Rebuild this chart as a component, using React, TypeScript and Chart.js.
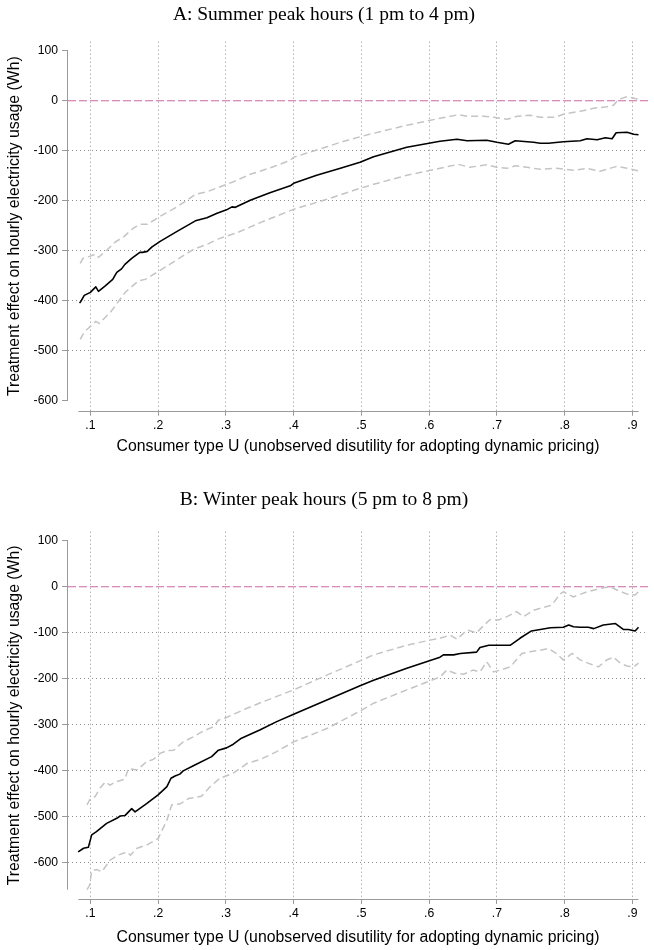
import React, { useEffect, useRef } from 'react';
import { Chart, registerables } from 'chart.js';

Chart.register(...registerables);

// ---------- text ----------
const TITLE_A = 'A: Summer peak hours (1 pm to 4 pm)';
const TITLE_B = 'B: Winter peak hours (5 pm to 8 pm)';
const X_TITLE = 'Consumer type U (unobserved disutility for adopting dynamic pricing)';
const Y_TITLE = 'Treatment effect on hourly electricity usage (Wh)';

// ---------- ticks / axis ranges ----------
const X_TICKS = [0.1, 0.2, 0.3, 0.4, 0.5, 0.6, 0.7, 0.8, 0.9];
const Y_TICKS = [100, 0, -100, -200, -300, -400, -500, -600];
const X_AXIS_RANGE = [0.0823, 0.9089];
const X_VIEW = [0.067, 0.923];
const Y_AXIS_A = [-600, 100];
const Y_VIEW_A = [-619.4, 118];
const Y_AXIS_B = [-658, 100];
const Y_VIEW_B = [-678.2, 119.5];
const REF_VALUE = 0;

// ---------- Panel A: summer ----------
const A_EST: [number, number][] = [
  [0.084, -404], [0.086, -401], [0.091, -389], [0.100, -383], [0.108, -372], [0.112, -381],
  [0.122, -370], [0.133, -357], [0.139, -343], [0.146, -336], [0.151, -327], [0.161, -315],
  [0.173, -303], [0.177, -303], [0.184, -301], [0.191, -292], [0.203, -281], [0.228, -261],
  [0.255, -240], [0.272, -234], [0.287, -225], [0.301, -218], [0.309, -212], [0.314, -213],
  [0.336, -199], [0.365, -184], [0.395, -170], [0.400, -165], [0.434, -149], [0.469, -135],
  [0.498, -123], [0.518, -112], [0.567, -93], [0.616, -81], [0.641, -77], [0.656, -80],
  [0.685, -79], [0.700, -83], [0.717, -87], [0.727, -80], [0.754, -83], [0.764, -85],
  [0.776, -85], [0.798, -82], [0.823, -80], [0.833, -76], [0.848, -78], [0.860, -74],
  [0.870, -76], [0.876, -64], [0.892, -63], [0.902, -67], [0.909, -68],
];
const A_UPPER: [number, number][] = [
  [0.085, -325], [0.089, -315], [0.099, -311], [0.107, -307], [0.112, -313], [0.124, -299],
  [0.137, -282], [0.149, -272], [0.164, -254], [0.174, -247], [0.184, -247], [0.203, -231],
  [0.228, -212], [0.255, -187], [0.272, -182], [0.311, -162], [0.336, -147], [0.370, -132],
  [0.395, -119], [0.400, -113], [0.449, -92], [0.469, -83], [0.498, -72], [0.518, -65],
  [0.567, -49], [0.616, -35], [0.643, -28], [0.656, -31], [0.680, -31], [0.695, -33],
  [0.715, -37], [0.730, -31], [0.749, -29], [0.764, -33], [0.786, -33], [0.798, -27],
  [0.823, -21], [0.843, -15], [0.862, -12], [0.872, -9], [0.880, 3], [0.892, 8], [0.909, 3],
];
const A_LOWER: [number, number][] = [
  [0.085, -477], [0.091, -462], [0.101, -450], [0.108, -441], [0.113, -445], [0.130, -422],
  [0.141, -402], [0.152, -382], [0.171, -360], [0.181, -357], [0.203, -339], [0.252, -297],
  [0.272, -287], [0.291, -275], [0.316, -264], [0.350, -244], [0.400, -217], [0.449, -197],
  [0.469, -188], [0.498, -175], [0.518, -167], [0.567, -149], [0.616, -135], [0.643, -127],
  [0.660, -133], [0.685, -128], [0.700, -133], [0.715, -135], [0.727, -130], [0.744, -133],
  [0.764, -137], [0.788, -135], [0.813, -139], [0.833, -135], [0.852, -141], [0.877, -131],
  [0.892, -135], [0.909, -140],
];

// ---------- Panel B: winter ----------
const B_EST: [number, number][] = [
  [0.082, -576], [0.090, -568], [0.097, -566], [0.102, -539], [0.109, -532], [0.124, -514],
  [0.139, -503], [0.144, -498], [0.151, -497], [0.161, -482], [0.166, -489], [0.183, -471],
  [0.200, -452], [0.213, -434], [0.219, -416], [0.225, -411], [0.232, -407], [0.237, -400],
  [0.252, -389], [0.279, -369], [0.289, -355], [0.301, -350], [0.311, -342], [0.323, -329],
  [0.341, -317], [0.350, -311], [0.375, -293], [0.400, -277], [0.449, -246], [0.498, -215],
  [0.518, -203], [0.567, -177], [0.616, -153], [0.621, -148], [0.636, -148], [0.646, -145],
  [0.670, -142], [0.675, -132], [0.688, -127], [0.698, -127], [0.720, -127], [0.734, -112],
  [0.751, -96], [0.779, -89], [0.798, -88], [0.806, -83], [0.813, -87], [0.823, -88],
  [0.835, -88], [0.843, -91], [0.857, -83], [0.875, -80], [0.887, -93], [0.894, -93],
  [0.904, -96], [0.909, -88],
];
const B_UPPER: [number, number][] = [
  [0.095, -474], [0.100, -460], [0.107, -456], [0.114, -438], [0.122, -424], [0.129, -431],
  [0.137, -424], [0.151, -418], [0.156, -395], [0.169, -398], [0.183, -380], [0.193, -375],
  [0.203, -362], [0.213, -356], [0.223, -355], [0.237, -337], [0.252, -326], [0.267, -313],
  [0.282, -304], [0.289, -290], [0.301, -284], [0.316, -274], [0.331, -264], [0.351, -252],
  [0.400, -224], [0.449, -192], [0.498, -161], [0.518, -148], [0.567, -127], [0.601, -116],
  [0.616, -112], [0.631, -105], [0.641, -114], [0.656, -94], [0.670, -100], [0.680, -85],
  [0.690, -71], [0.702, -72], [0.715, -65], [0.729, -54], [0.739, -65], [0.754, -51],
  [0.769, -45], [0.781, -40], [0.793, -16], [0.798, -11], [0.813, -22], [0.833, -11],
  [0.852, -4], [0.867, 0], [0.877, -7], [0.892, -16], [0.904, -18], [0.909, -11],
];
const B_LOWER: [number, number][] = [
  [0.095, -658], [0.099, -648], [0.102, -617], [0.109, -614], [0.117, -619], [0.129, -594],
  [0.141, -583], [0.154, -576], [0.159, -583], [0.169, -568], [0.183, -561], [0.200, -547],
  [0.213, -507], [0.220, -474], [0.232, -472], [0.245, -460], [0.264, -455], [0.277, -434],
  [0.291, -416], [0.311, -405], [0.331, -384], [0.351, -375], [0.375, -358], [0.400, -337],
  [0.449, -308], [0.498, -270], [0.518, -253], [0.567, -224], [0.616, -196], [0.626, -181],
  [0.638, -188], [0.651, -190], [0.665, -181], [0.675, -185], [0.685, -163], [0.695, -185],
  [0.705, -181], [0.720, -174], [0.729, -158], [0.737, -145], [0.749, -141], [0.764, -138],
  [0.776, -134], [0.788, -145], [0.798, -159], [0.811, -145], [0.823, -159], [0.838, -168],
  [0.850, -174], [0.862, -159], [0.872, -153], [0.882, -166], [0.892, -172], [0.902, -174],
  [0.909, -166],
];

// ---------- styles ----------
const SANS = "'Liberation Sans', Arial, Helvetica, sans-serif";
const SERIF = "'Liberation Serif', 'Times New Roman', serif";
const AXIS_COLOR = '#9a9a9a';
const GRID_COLOR = '#8f8f8f';
const CI_COLOR = '#c4c4c4';
const REF_COLOR = '#cf68a4';

const toPts = (arr: [number, number][]) => arr.map(([x, y]) => ({ x, y }));

const stataAxes = {
  id: 'stataAxes',
  afterDraw(chart: any, _args: any, opts: any) {
    const { ctx, chartArea } = chart;
    const x = chart.scales.x;
    const y = chart.scales.y;
    ctx.save();
    ctx.strokeStyle = AXIS_COLOR;
    ctx.lineWidth = 1;
    ctx.setLineDash([]);
    const lx = Math.round(chartArea.left) - 0.5;
    ctx.beginPath();
    ctx.moveTo(lx, y.getPixelForValue(opts.yRange[1]));
    ctx.lineTo(lx, y.getPixelForValue(opts.yRange[0]));
    ctx.stroke();
    const by = Math.round(chartArea.bottom) + 0.5;
    ctx.beginPath();
    ctx.moveTo(x.getPixelForValue(opts.xRange[0]), by);
    ctx.lineTo(x.getPixelForValue(opts.xRange[1]), by);
    ctx.stroke();
    ctx.restore();
  },
};

type PanelProps = {
  title: string;
  est: [number, number][];
  upper: [number, number][];
  lower: [number, number][];
  yAxis: number[];
  yView: number[];
  hideGrid: number[];
  top: number;
  height: number;
  titlePad: { top: number; bottom: number };
  xScaleHeight: number;
  xTitleBottom: number;
};

function Panel(p: PanelProps) {
  const ref = useRef<HTMLCanvasElement | null>(null);
  useEffect(() => {
    if (!ref.current) return;
    const chart = new Chart(ref.current, {
      type: 'line',
      data: {
        datasets: [
          { data: toPts(p.est), borderColor: '#000000', borderWidth: 1.6, pointRadius: 0, tension: 0, borderJoinStyle: 'round' },
          { data: toPts(p.upper), borderColor: CI_COLOR, borderWidth: 1.5, borderDash: [7, 4], pointRadius: 0, tension: 0 },
          { data: toPts(p.lower), borderColor: CI_COLOR, borderWidth: 1.5, borderDash: [7, 4], pointRadius: 0, tension: 0 },
          {
            data: [{ x: X_VIEW[0], y: REF_VALUE }, { x: X_VIEW[1], y: REF_VALUE }],
            borderColor: REF_COLOR,
            backgroundColor: REF_COLOR,
            borderWidth: 1.1,
            borderDash: [8, 3],
            pointRadius: 0,
            tension: 0,
            fill: false,
          },
        ],
      },
      options: {
        responsive: false,
        animation: false,
        events: [],
        devicePixelRatio: 1,
        layout: { padding: { top: 0, left: 0, right: 6, bottom: 0 } },
        plugins: {
          legend: { display: false },
          tooltip: { enabled: false },
          title: {
            display: true,
            text: p.title,
            color: '#000',
            font: { family: SERIF, size: 19.5, weight: 'normal', lineHeight: 1.2 },
            padding: p.titlePad,
          },
          stataAxes: { xRange: X_AXIS_RANGE, yRange: p.yAxis },
        } as any,
        scales: {
          x: {
            type: 'linear',
            min: X_VIEW[0],
            max: X_VIEW[1],
            afterBuildTicks: (s: any) => { s.ticks = X_TICKS.map((v) => ({ value: v })); },
            afterFit: (s: any) => { s.height = p.xScaleHeight; },
            ticks: {
              color: '#000',
              font: { family: SANS, size: 12.2 },
              padding: 2.5,
              autoSkip: false,
              maxRotation: 0,
              callback: (v: any) => Number(v).toFixed(1).replace(/^0/, ''),
            },
            grid: {
              color: GRID_COLOR,
              lineWidth: 1,
              tickColor: AXIS_COLOR,
              tickLength: 5,
              tickBorderDash: [],
            } as any,
            border: { display: false, dash: [1, 3] },
            title: {
              display: true,
              text: X_TITLE,
              color: '#000',
              font: { family: SANS, size: 15.8 },
              padding: { top: 0, bottom: p.xTitleBottom },
            },
          },
          y: {
            type: 'linear',
            min: p.yView[0],
            max: p.yView[1],
            afterBuildTicks: (s: any) => { s.ticks = Y_TICKS.map((v) => ({ value: v })); },
            afterFit: (s: any) => { s.width = 68; },
            ticks: {
              color: '#000',
              font: { family: SANS, size: 12.2 },
              padding: 4,
              autoSkip: false,
              callback: (v: any) => String(v),
            },
            grid: {
              color: (c: any) => (c.tick && p.hideGrid.includes(c.tick.value) ? 'rgba(0,0,0,0)' : GRID_COLOR),
              lineWidth: 1,
              tickColor: AXIS_COLOR,
              tickLength: 6,
              tickBorderDash: [],
            } as any,
            border: { display: false, dash: [1, 3] },
            title: {
              display: true,
              text: Y_TITLE,
              color: '#000',
              font: { family: SANS, size: 15.8 },
              padding: { top: 5, bottom: 0 },
            },
          },
        },
      },
      plugins: [stataAxes as any],
    });
    return () => chart.destroy();
  }, []);
  return (
    <canvas
      ref={ref}
      width={654}
      height={p.height}
      style={{ position: 'absolute', left: 0, top: p.top, width: 654, height: p.height }}
    />
  );
}

export default function App() {
  return (
    <div style={{ position: 'absolute', left: 0, top: 0, width: 654, height: 950, overflow: 'hidden', background: '#fff' }}>
      <Panel
        title={TITLE_A}
        est={A_EST}
        upper={A_UPPER}
        lower={A_LOWER}
        yAxis={Y_AXIS_A}
        yView={Y_VIEW_A}
        hideGrid={[100, 0, -600]}
        top={0}
        height={470}
        titlePad={{ top: 3.3, bottom: 15 }}
        xScaleHeight={59.3}
        xTitleBottom={13.5}
      />
      <Panel
        title={TITLE_B}
        est={B_EST}
        upper={B_UPPER}
        lower={B_LOWER}
        yAxis={Y_AXIS_B}
        yView={Y_VIEW_B}
        hideGrid={[100, 0]}
        top={470}
        height={480}
        titlePad={{ top: 18.3, bottom: 20 }}
        xScaleHeight={51}
        xTitleBottom={2.5}
      />
    </div>
  );
}
